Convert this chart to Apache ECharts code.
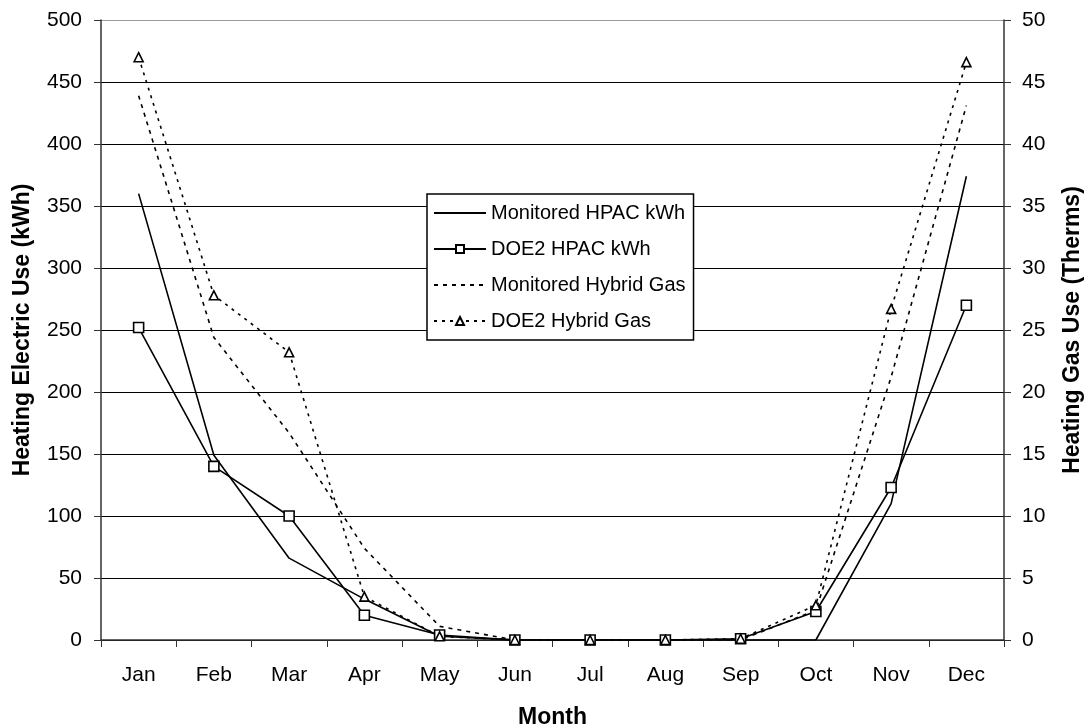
<!DOCTYPE html>
<html>
<head>
<meta charset="utf-8">
<script src="https://cdn.jsdelivr.net/npm/echarts@6/dist/echarts.min.js"></script>
<style>
html,body{margin:0;padding:0;background:#fff;}
#chart{width:1087px;height:726px;}
</style>
</head>
<body>
<div id="chart"></div>
<script>
const months = ['Jan','Feb','Mar','Apr','May','Jun','Jul','Aug','Sep','Oct','Nov','Dec'];
const monitoredHpacKwh = [360, 149, 66, 33, 3, 0, 0, 0, 0, 0, 110, 374];
const doe2HpacKwh = [252, 140, 100, 20, 4, 0, 0, 0, 1, 23, 123, 270];
const monitoredGasTherms = [43.9, 24.4, 16.7, 7.4, 1.1, 0, 0, 0, 0, 2.4, 21.2, 43.1];
const doe2GasTherms = [47.0, 27.8, 23.2, 3.5, 0.3, 0, 0, 0, 0.1, 2.8, 26.7, 46.6];
const leftTicks = {min: 0, max: 500, interval: 50};
const rightTicks = {min: 0, max: 50, interval: 5};

const FONT = 'Liberation Sans, Arial, sans-serif';
const chart = echarts.init(document.getElementById('chart'));
const gridColors = ['#000','#000','#000','#000','#000','#000','#000','#000','#000','#000','#999'];

chart.setOption({
  animation: false,
  backgroundColor: '#fff',
  textStyle: {fontFamily: FONT, color: '#000'},
  grid: {left: 101, right: 83, top: 20, bottom: 86, containLabel: false, outerBoundsMode: 'none'},
  legend: {
    orient: 'vertical',
    left: 427, top: 194,
    padding: [9, 8, 9, 6],
    itemWidth: 52, itemHeight: 10, itemGap: 16,
    backgroundColor: '#fff',
    borderColor: '#000', borderWidth: 1.5,
    textStyle: {fontFamily: FONT, fontSize: 20, color: '#000', lineHeight: 20},
    data: [
      {name: 'Monitored HPAC kWh', itemStyle: {opacity: 0}},
      {name: 'DOE2 HPAC kWh'},
      {name: 'Monitored Hybrid Gas', itemStyle: {opacity: 0}},
      {name: 'DOE2 Hybrid Gas'}
    ]
  },
  xAxis: {
    type: 'category',
    data: months,
    boundaryGap: true,
    name: 'Month',
    nameLocation: 'middle',
    nameGap: 66,
    nameTextStyle: {fontFamily: FONT, fontSize: 23, fontWeight: 'bold', color: '#000'},
    axisLine: {lineStyle: {color: '#333', width: 1.5}},
    axisTick: {show: true, length: 7, alignWithLabel: false, lineStyle: {color: '#333'}},
    axisLabel: {fontFamily: FONT, fontSize: 21, color: '#000', margin: 25}
  },
  yAxis: [{
    type: 'value',
    min: leftTicks.min, max: leftTicks.max, interval: leftTicks.interval,
    position: 'left',
    name: 'Heating Electric Use (kWh)',
    nameLocation: 'middle',
    nameRotate: 90,
    nameGap: 67,
    nameTextStyle: {fontFamily: FONT, fontSize: 23, fontWeight: 'bold', color: '#000'},
    axisLine: {show: true, lineStyle: {color: '#333', width: 1.5}},
    axisTick: {show: true, length: 7, lineStyle: {color: '#333'}},
    axisLabel: {fontFamily: FONT, fontSize: 21, color: '#000', margin: 19},
    splitLine: {show: true, lineStyle: {color: gridColors, width: 1.2}}
  }, {
    type: 'value',
    min: rightTicks.min, max: rightTicks.max, interval: rightTicks.interval,
    position: 'right',
    name: 'Heating Gas Use (Therms)',
    nameLocation: 'middle',
    nameRotate: 90,
    nameGap: 57,
    nameTextStyle: {fontFamily: FONT, fontSize: 23, fontWeight: 'bold', color: '#000'},
    axisLine: {show: true, lineStyle: {color: '#333', width: 1.5}},
    axisTick: {show: true, length: 7, lineStyle: {color: '#333'}},
    axisLabel: {fontFamily: FONT, fontSize: 21, color: '#000', margin: 18},
    splitLine: {show: false}
  }],
  series: [{
    name: 'Monitored HPAC kWh',
    type: 'line', yAxisIndex: 0,
    data: monitoredHpacKwh,
    symbol: 'none',
    color: '#000',
    lineStyle: {color: '#000', width: 1.6, type: 'solid'},
    z: 3
  }, {
    name: 'DOE2 HPAC kWh',
    type: 'line', yAxisIndex: 0,
    data: doe2HpacKwh,
    symbol: 'rect', symbolSize: 10, showAllSymbol: true,
    color: '#000',
    itemStyle: {color: '#fff', borderColor: '#000', borderWidth: 1.6},
    lineStyle: {color: '#000', width: 1.6, type: 'solid'},
    z: 4
  }, {
    name: 'Monitored Hybrid Gas',
    type: 'line', yAxisIndex: 1,
    data: monitoredGasTherms,
    symbol: 'none',
    color: '#000',
    lineStyle: {color: '#000', width: 1.6, type: [4, 5]},
    z: 3
  }, {
    name: 'DOE2 Hybrid Gas',
    type: 'line', yAxisIndex: 1,
    data: doe2GasTherms,
    symbol: 'triangle', symbolSize: 9, showAllSymbol: true,
    color: '#000',
    itemStyle: {color: '#fff', borderColor: '#000', borderWidth: 1.6},
    lineStyle: {color: '#000', width: 1.6, type: [3, 5]},
    z: 4
  }]
});
</script>
</body>
</html>
